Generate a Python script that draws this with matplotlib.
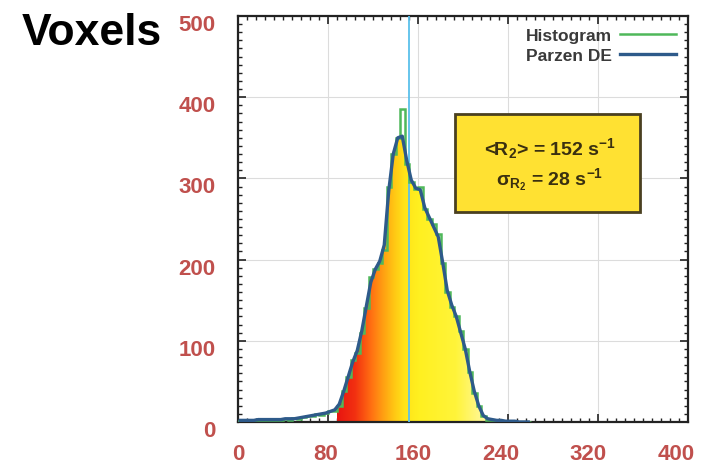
#!/usr/bin/env python

import numpy as np
import matplotlib
matplotlib.use("Agg")
import matplotlib.pyplot as plt
from matplotlib.colors import LinearSegmentedColormap
from matplotlib.patches import Rectangle
from matplotlib.transforms import ScaledTranslation

# R2 histogram, bins of 4 s^-1 starting at 0
bin_width = 4
hist_counts = [1, 1, 2, 2, 2, 3, 3, 2, 3, 3,
               4, 3, 5, 4, 6, 8, 7, 10, 9, 11,
               13, 14, 20, 38, 55, 76, 85, 110, 140, 178,
               188, 196, 212, 290, 330, 350, 386, 318, 295, 287,
               289, 262, 250, 244, 232, 196, 160, 142, 130, 112,
               90, 62, 36, 20, 7, 3, 2, 2, 1, 1,
               1, 0, 0, 0, 0]
parzen_counts = [2, 2, 2, 2, 3, 3, 3, 3, 3, 3,
                 4, 4, 4, 5, 6, 7, 8, 9, 10, 11,
                 13, 15, 22, 38, 56, 74, 88, 112, 142, 172,
                 188, 198, 218, 285, 330, 350, 352, 322, 298, 288,
                 286, 264, 252, 240, 228, 196, 162, 144, 130, 110,
                 90, 62, 38, 20, 8, 4, 3, 2, 2, 1,
                 1, 1, 0, 0, 0]
mean_r2 = 152
sigma_r2 = 28

x_ticks = [0, 80, 160, 240, 320, 400]
y_ticks = [0, 100, 200, 300, 400, 500]

tick_color = "#c0504d"

plt.rcParams["font.family"] = ["Liberation Sans", "DejaVu Sans"]
plt.rcParams["mathtext.fontset"] = "custom"
plt.rcParams["mathtext.rm"] = "Liberation Sans:bold"
plt.rcParams["mathtext.it"] = "Liberation Sans:bold"
plt.rcParams["mathtext.bf"] = "Liberation Sans:bold"
plt.rcParams["mathtext.default"] = "bf"

fig = plt.figure(figsize=(7.11, 4.64), dpi=100)
ax = fig.add_axes([238 / 711, 41 / 464, 450 / 711, 406 / 464])

edges = np.arange(len(hist_counts) + 1) * bin_width
hist = np.array(hist_counts, dtype=float)
parzen = np.array(parzen_counts, dtype=float)
centers = edges[:-1] + bin_width / 2

# gradient fill under the density curve
poly = ax.fill_between(centers, parzen, facecolor="none", edgecolor="none")
cmap = LinearSegmentedColormap.from_list("heat", [
    (0.0, "#e81510"), (0.12, "#f23010"), (0.22, "#ff6a12"), (0.30, "#ff9a12"),
    (0.38, "#ffc514"), (0.45, "#ffe318"), (0.55, "#fff020"), (0.80, "#fff43a"),
    (1.0, "#fff7a0")])
grad = np.linspace(0, 1, 256).reshape(1, -1)
im = ax.imshow(grad, extent=[88, 220, 0, 500], aspect="auto", cmap=cmap,
               origin="lower", zorder=2)
im.set_clip_path(poly.get_paths()[0], transform=ax.transData)

ax.axvline(mean_r2, color="#5bc0eb", lw=1.3, zorder=3)

ax.stairs(hist, edges, color="#4fb85a", lw=1.8, zorder=4, label="Histogram")
ax.plot(centers, parzen, color="#2e5a8a", lw=2.4, zorder=5, label="Parzen DE")

ax.set_xlim(0, 400)
ax.set_ylim(0, 500)
ax.set_xticks(x_ticks)
ax.set_yticks(y_ticks)
ax.set_xticks(np.arange(0, 401, 8), minor=True)
ax.set_yticks(np.arange(0, 501, 10), minor=True)
ax.tick_params(which="both", direction="in", top=True, right=True, color="#222222")
ax.tick_params(which="major", length=6, width=1.2)
ax.tick_params(which="minor", length=3, width=1)
ax.tick_params(axis="x", which="major", pad=15, labelsize=16, labelcolor=tick_color)
ax.tick_params(axis="y", which="major", pad=16, labelsize=16, labelcolor=tick_color)
for lab in ax.get_xticklabels() + ax.get_yticklabels():
    lab.set_fontweight("bold")
# labels in the source sit a little off their ticks
for i, lab in enumerate(ax.get_xticklabels()):
    lab.set_transform(lab.get_transform() + ScaledTranslation(-0.024 * i, 0, fig.dpi_scale_trans))
for lab in ax.get_yticklabels():
    lab.set_transform(lab.get_transform() + ScaledTranslation(0, -0.06, fig.dpi_scale_trans))
ax.grid(True, which="major", color="#dcdcdc", lw=0.8, zorder=0)
ax.set_axisbelow(True)
for sp in ax.spines.values():
    sp.set_linewidth(1.6)
    sp.set_color("#222222")

leg = ax.legend(loc="upper right", markerfirst=False, frameon=False, fontsize=12.5,
                handlelength=3.2, handletextpad=0.5, labelspacing=0.25,
                borderaxespad=0.3)
for t in leg.get_texts():
    t.set_color("#3a3a3a")
    t.set_fontweight("bold")

# stats box
ax.add_patch(Rectangle((0.482, 0.517), 0.411, 0.241, transform=ax.transAxes,
                       facecolor="#ffe132", edgecolor="#4a4020", lw=2, zorder=6))
ax.text(0.693, 0.677, r"<R$_2$> = %d s$^{-1}$" % mean_r2, transform=ax.transAxes,
        ha="center", va="center", fontsize=14, fontweight="bold", color="#3a3010", zorder=7)
ax.text(0.693, 0.599, r"σ$_{R_2}$ = %d s$^{-1}$" % sigma_r2, transform=ax.transAxes,
        ha="center", va="center", fontsize=14, fontweight="bold", color="#3a3010", zorder=7)

fig.text(22 / 711, 1 - 45 / 464, "Voxels", fontsize=32, fontweight="bold",
         ha="left", va="baseline", color="black")

fig.savefig("out.png", dpi=100)
